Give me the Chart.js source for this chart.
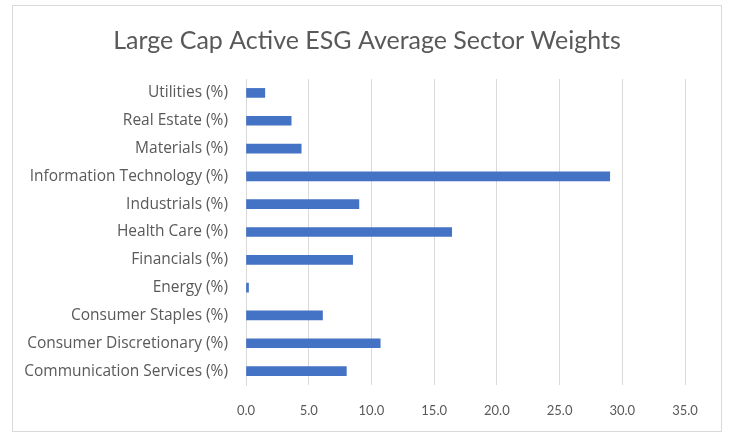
<!DOCTYPE html>
<html lang="en">
<head>
    <meta charset="UTF-8">
    <title>Large Cap Active ESG Average Sector Weights</title>
    <script src="https://cdn.jsdelivr.net/npm/chart.js"></script>
    <style>
        body {
            margin: 0;
            background-color: #ffffff;
        }
        .chart-box {
            position: absolute;
            left: 12px;
            top: 5px;
            width: 708px;
            height: 425px;
            border: 1px solid #d9d9d9;
        }
    </style>
</head>
<body>
    <div class="chart-box">
        <canvas id="sector-chart"></canvas>
    </div>
    <script>
        // Sector weights, top row first
        const sectors = [
            'Utilities (%)',
            'Real Estate (%)',
            'Materials (%)',
            'Information Technology (%)',
            'Industrials (%)',
            'Health Care (%)',
            'Financials (%)',
            'Energy (%)',
            'Consumer Staples (%)',
            'Consumer Discretionary (%)',
            'Communication Services (%)'
        ];
        const weights = [1.5, 3.6, 4.4, 29.0, 9.0, 16.4, 8.5, 0.2, 6.1, 10.7, 8.0];
        const xTicks = [0, 5, 10, 15, 20, 25, 30, 35];

        const textColor = '#595959';
        const gridColor = '#d9d9d9';

        const ctx = document.getElementById('sector-chart').getContext('2d');
        new Chart(ctx, {
            type: 'bar',
            data: {
                labels: sectors,
                datasets: [{
                    label: 'Weight',
                    data: weights,
                    backgroundColor: '#4472c4',
                    barThickness: 9
                }]
            },
            options: {
                indexAxis: 'y',
                responsive: true,
                maintainAspectRatio: false,
                animation: false,
                plugins: {
                    legend: { display: false },
                    tooltip: { enabled: false },
                    title: {
                        display: true,
                        text: 'Large Cap Active ESG Average Sector Weights',
                        color: textColor,
                        font: { family: 'Lato, sans-serif', size: 25, weight: 'normal' },
                        padding: { top: 20, bottom: 23 }
                    }
                },
                scales: {
                    x: {
                        min: 0,
                        max: 35,
                        afterBuildTicks: scale => {
                            scale.ticks = xTicks.map(v => ({ value: v }));
                        },
                        afterFit: scale => { scale.height = 46; },
                        grid: {
                            color: gridColor,
                            drawTicks: false
                        },
                        border: { display: false },
                        ticks: {
                            color: textColor,
                            padding: 18,
                            font: { family: 'Lato, sans-serif', size: 13 },
                            callback: v => v.toFixed(1)
                        }
                    },
                    y: {
                        afterFit: scale => { scale.width = 233; },
                        grid: { display: false, drawTicks: false },
                        border: { display: true, color: gridColor },
                        ticks: {
                            color: textColor,
                            padding: 18,
                            font: { family: '"Open Sans", sans-serif', size: 15.5 }
                        }
                    },
                    // empty right-hand margin so the title stays centred on the box
                    yRight: {
                        position: 'right',
                        afterFit: scale => { scale.width = 36; },
                        grid: { display: false, drawTicks: false },
                        border: { display: false },
                        ticks: { display: false }
                    }
                }
            }
        });
    </script>
</body>
</html>
